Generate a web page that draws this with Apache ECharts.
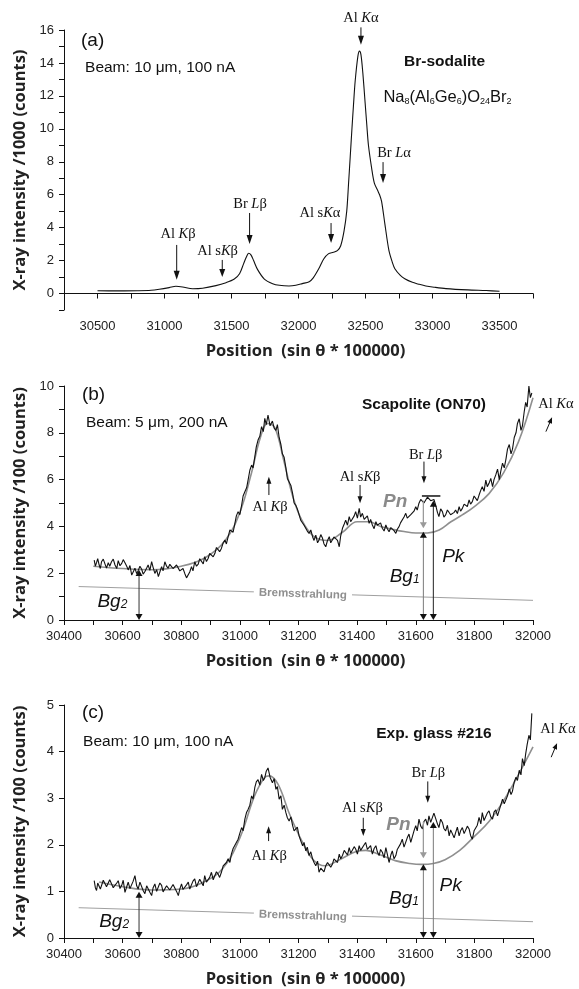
<!DOCTYPE html>
<html>
<head>
<meta charset="utf-8">
<script src="https://cdn.jsdelivr.net/npm/echarts@6/dist/echarts.min.js"></script>
<style>
html, body { margin: 0; padding: 0; background: #fff; }
#main { width: 579px; height: 989px; }
</style>
</head>
<body>
<div id="main"></div>
<script>
// (a) Br-sodalite, intensity /1000
const aPos = [30500, 30600, 30700, 30800, 30900, 30961, 31035, 31085, 31135, 31210,
  31284, 31384, 31459, 31521, 31560, 31590, 31610, 31628, 31645, 31665,
  31695, 31745, 31807, 31857, 31929, 31980, 32028, 32080, 32110, 32151,
  32188, 32225, 32260, 32290, 32315, 32340, 32360, 32373, 32386, 32398,
  32410, 32423, 32443, 32455, 32466, 32480, 32497, 32510, 32522, 32546,
  32566, 32591, 32605, 32620, 32645, 32675, 32700, 32719, 32760, 32793,
  32850, 32892, 32950, 33016, 33100, 33263, 33400, 33500]
const aInt = [0.17, 0.16, 0.16, 0.17, 0.2, 0.26, 0.36, 0.44, 0.40, 0.29,
  0.32, 0.48, 0.66, 0.88, 1.2, 1.8, 2.2, 2.45, 2.35, 2.0,
  1.45, 0.88, 0.6, 0.5, 0.46, 0.5, 0.6, 0.72, 0.95, 1.5,
  2.1, 2.42, 2.5, 2.6, 2.9, 3.8, 5.0, 6.6, 8.3, 9.9,
  11.4, 12.9, 14.4, 14.72, 14.5, 13.4, 11.6, 10.2, 9.0, 7.6,
  6.7, 6.25, 6.0, 5.6, 4.2, 2.6, 1.9, 1.5, 1.1, 0.9,
  0.68, 0.58, 0.46, 0.38, 0.3, 0.22, 0.18, 0.14]

// (b) scapolite and (c) glass, intensity /100, read at the same positions
const bcPos = [30503, 30507, 30511, 30515, 30520, 30524, 30528, 30534, 30540, 30545,
  30551, 30556, 30562, 30568, 30574, 30580, 30585, 30591, 30597, 30602,
  30608, 30614, 30619, 30625, 30631, 30636, 30642, 30648, 30653, 30659,
  30665, 30670, 30676, 30682, 30687, 30693, 30699, 30704, 30710, 30716,
  30722, 30727, 30733, 30738, 30744, 30750, 30755, 30761, 30767, 30772,
  30778, 30784, 30790, 30795, 30801, 30806, 30812, 30818, 30824, 30829,
  30835, 30840, 30846, 30852, 30858, 30863, 30869, 30875, 30880, 30886,
  30892, 30897, 30903, 30909, 30915, 30920, 30926, 30931, 30937, 30943,
  30949, 30954, 30960, 30966, 30971, 30977, 30983, 30988, 30994, 31000,
  31006, 31011, 31017, 31023, 31028, 31034, 31040, 31045, 31051, 31056,
  31062, 31068, 31074, 31080, 31085, 31090, 31096, 31103,
  31111, 31117, 31123, 31128, 31134, 31140, 31145, 31151, 31157, 31162,
  31168, 31174, 31180, 31185, 31191, 31196, 31202, 31208, 31214, 31219,
  31225, 31230, 31236, 31242, 31248, 31253, 31259, 31265, 31270, 31276,
  31282, 31287, 31293, 31299, 31305, 31310, 31316, 31321, 31327, 31333,
  31339, 31344, 31350, 31356, 31361, 31367, 31373, 31378, 31384, 31390,
  31395, 31401, 31407, 31412, 31418, 31424, 31429, 31435, 31441, 31446,
  31452, 31458, 31464, 31469, 31475, 31480, 31486, 31492, 31498, 31503,
  31509, 31515, 31520, 31526, 31532, 31537, 31543, 31548, 31554, 31560,
  31566, 31571, 31577, 31583, 31589, 31594, 31600, 31605, 31611, 31617,
  31623, 31628, 31634, 31640, 31645, 31651, 31657, 31662, 31668, 31674,
  31679, 31685, 31691, 31696, 31702, 31708, 31714, 31719, 31725, 31731,
  31736, 31742, 31748, 31753, 31759, 31765, 31770, 31776, 31782, 31787,
  31793, 31799, 31805, 31810, 31816, 31822, 31827, 31833, 31839, 31844,
  31850, 31856, 31862, 31867, 31873, 31879, 31885, 31890, 31896, 31902,
  31908, 31913, 31919, 31925, 31930, 31936, 31942, 31947, 31953, 31959,
  31964, 31970, 31975, 31980, 31986, 31991, 31996]
const bInt = [2.56, 2.30, 2.45, 2.62, 2.35, 2.20, 2.49, 2.60, 2.39, 2.22,
  2.45, 2.30, 2.49, 2.60, 2.35, 2.20, 2.54, 2.32, 2.42, 2.58,
  2.45, 2.30, 2.14, 2.33, 1.92, 2.05, 2.21, 1.98, 2.11, 2.30,
  2.17, 1.96, 2.07, 2.22, 2.35, 2.12, 2.49, 2.25, 1.99, 2.15,
  1.85, 2.05, 2.28, 2.10, 2.49, 2.30, 2.21, 2.38, 2.45, 2.20,
  2.14, 2.35, 2.28, 2.10, 2.02, 2.20, 1.99, 1.80, 1.85, 2.05,
  2.28, 2.10, 2.49, 2.30, 2.39, 2.62, 2.56, 2.40, 2.71, 2.50,
  2.64, 2.85, 2.92, 2.70, 2.85, 3.10, 3.13, 2.92, 3.06, 3.30,
  3.42, 3.25, 3.56, 3.85, 3.92, 3.75, 4.13, 4.45, 4.63, 4.50,
  4.91, 5.30, 5.48, 5.65, 5.98, 6.40, 6.62, 6.50, 6.98, 7.40,
  7.69, 7.85, 8.26, 8.05, 8.62, 8.35, 8.76, 8.30,
  8.50, 8.20, 8.10, 8.35, 7.80, 7.50, 7.10, 6.95, 6.50, 6.05,
  5.90, 5.75, 5.40, 5.00, 4.90, 4.75, 4.50, 4.25, 4.20, 4.05,
  4.00, 3.80, 3.70, 3.85, 3.56, 3.40, 3.63, 3.30, 3.42, 3.65,
  3.49, 3.25, 3.13, 3.40, 3.56, 3.30, 3.35, 3.55, 3.63, 3.40,
  3.13, 3.60, 3.92, 4.10, 4.27, 4.05, 4.42, 4.20, 4.13, 4.45,
  4.63, 4.35, 4.77, 4.40, 4.56, 4.30, 4.27, 4.45, 4.13, 4.30,
  4.06, 3.90, 4.20, 4.05, 3.99, 4.15, 3.92, 3.80, 4.06, 3.90,
  3.77, 3.95, 3.99, 3.82, 3.70, 3.88, 3.99, 4.15, 4.20, 4.40,
  4.56, 4.35, 4.27, 4.50, 4.42, 4.65, 4.84, 4.70, 4.99, 5.15,
  5.20, 5.00, 5.13, 5.25, 5.27, 5.10, 5.06, 5.15, 4.91, 4.60,
  4.42, 4.75, 4.63, 4.40, 4.49, 4.70, 4.63, 4.50, 4.42, 4.60,
  4.70, 4.55, 4.84, 4.65, 4.77, 4.95, 4.99, 4.85, 5.13, 4.95,
  5.06, 5.30, 5.27, 5.10, 5.34, 5.55, 5.70, 5.50, 5.98, 5.70,
  5.84, 6.05, 5.70, 6.00, 6.20, 6.45, 6.00, 6.35, 6.70, 6.50,
  6.90, 7.30, 7.50, 7.10, 7.30, 7.80, 8.00, 8.40, 8.60, 8.10,
  8.30, 8.90, 9.30, 9.10, 10.0, 9.50, 9.70]
const cInt = [1.23, 1.08, 1.02, 1.18, 1.21, 1.05, 1.09, 1.24, 1.27, 1.10,
  1.13, 1.25, 1.21, 1.08, 1.05, 1.18, 1.23, 1.06, 1.13, 1.24,
  0.98, 1.10, 1.20, 1.06, 1.02, 1.22, 1.34, 1.12, 1.05, 1.20,
  1.16, 1.02, 0.95, 1.12, 1.09, 0.98, 0.91, 1.08, 1.16, 1.00,
  1.02, 1.18, 1.13, 0.99, 0.98, 1.12, 1.16, 1.03, 1.02, 1.15,
  1.13, 1.00, 0.91, 1.05, 1.16, 1.04, 1.02, 1.14, 1.20, 1.05,
  1.09, 1.22, 1.27, 1.10, 1.13, 1.26, 1.23, 1.12, 1.34, 1.20,
  1.16, 1.30, 1.41, 1.25, 1.27, 1.42, 1.37, 1.30, 1.41, 1.55,
  1.52, 1.62, 1.70, 1.62, 1.80, 1.92, 1.94, 2.05, 2.12, 2.25,
  2.37, 2.30, 2.55, 2.70, 2.76, 2.85, 3.05, 2.98, 3.23, 3.35,
  3.40, 3.28, 3.51, 3.38, 3.44, 3.58, 3.65, 3.45,
  3.33, 3.42, 3.19, 3.25, 2.98, 3.05, 2.76, 2.85, 2.69, 2.58,
  2.51, 2.60, 2.41, 2.30, 2.26, 2.38, 2.19, 2.08, 1.98, 2.05,
  1.87, 1.95, 1.77, 1.85, 1.70, 1.62, 1.55, 1.65, 1.41, 1.50,
  1.52, 1.42, 1.55, 1.62, 1.66, 1.52, 1.59, 1.70, 1.73, 1.62,
  1.80, 1.70, 1.77, 1.88, 1.87, 1.78, 1.94, 1.82, 1.84, 1.96,
  1.91, 1.80, 1.98, 1.88, 1.87, 2.00, 2.05, 1.90, 1.87, 1.98,
  1.80, 1.92, 1.98, 1.85, 1.77, 1.90, 1.84, 1.72, 1.94, 1.80,
  1.62, 1.78, 1.87, 1.70, 1.77, 1.90, 1.91, 2.02, 2.12, 1.95,
  1.98, 2.15, 2.23, 2.05, 2.09, 2.30, 2.41, 2.30, 2.55, 2.40,
  2.34, 2.50, 2.55, 2.42, 2.62, 2.48, 2.51, 2.68, 2.66, 2.45,
  2.37, 2.55, 2.48, 2.35, 2.30, 2.42, 2.19, 2.32, 2.30, 2.15,
  2.26, 2.38, 2.19, 2.30, 2.37, 2.24, 2.23, 2.40, 2.34, 2.20,
  2.12, 2.30, 2.26, 2.42, 2.59, 2.45, 2.69, 2.52, 2.55, 2.68,
  2.73, 2.60, 2.55, 2.70, 2.75, 2.62, 2.62, 2.85, 2.98, 2.88,
  2.85, 3.05, 3.20, 3.08, 3.15, 3.35, 3.45, 3.38, 3.60, 3.50,
  3.85, 3.70, 3.95, 4.15, 4.35, 4.25, 4.82]

// smooth grey fits (background model)
const bFitPos = [30500, 30600, 30700, 30800, 30880, 30950, 31000, 31040, 31070, 31095,
  31120, 31150, 31180, 31210, 31250, 31300, 31350, 31400, 31440, 31480,
  31520, 31560, 31600, 31640, 31680, 31720, 31760, 31800, 31850, 31900,
  31950, 32000]
const bFit = [2.3, 2.2, 2.15, 2.3, 2.65, 3.4, 4.6, 6.3, 7.8, 8.4,
  8.2, 6.8, 5.3, 4.3, 3.6, 3.4, 3.75, 4.2, 4.2, 4.0,
  3.88, 3.78, 3.72, 3.72, 3.85, 4.2, 4.5, 4.85, 5.4, 6.3,
  7.6, 9.5]
const cFitPos = [30520, 30600, 30700, 30800, 30870, 30940, 31000, 31050, 31085, 31100,
  31130, 31170, 31210, 31250, 31290, 31340, 31400, 31430, 31480, 31530,
  31580, 31620, 31660, 31700, 31750, 31800, 31850, 31900, 31950, 32000]
const cFit = [1.2, 1.1, 1.03, 1.05, 1.18, 1.48, 2.15, 3.05, 3.45, 3.48,
  3.3, 2.65, 2.1, 1.68, 1.55, 1.68, 1.86, 1.88, 1.78, 1.66,
  1.6, 1.58, 1.6, 1.68, 1.88, 2.18, 2.5, 2.95, 3.5, 4.1]

// Bremsstrahlung lines
const bremPos = [30450, 32000]
const bBrem = [1.43, 0.84]
const cBrem = [0.65, 0.35]

// measured levels for the Pk / Bg arrows
const bLevels = { bg2: 2.14, bg1: 3.77, pk: 5.10, pnTip: 3.92 }
const cLevels = { bg2: 0.99, bg1: 1.58, pk: 2.49, pnTip: 1.71 }

const pairs = (xs, ys) => xs.map((x, i) => [x, ys[i]])

const SANS = '"Liberation Sans", Arial, sans-serif'
const SERIF = '"Liberation Serif", "Times New Roman", serif'
const TITLE = '"Open Sans", Lato, sans-serif'

const chart = echarts.init(document.getElementById('main'))

function xAxisOf (grid, min, max, step, every) {
  return {
    type: 'value',
    gridIndex: grid,
    min: min,
    max: max,
    interval: step,
    name: 'Position  (sin θ * 100000)',
    nameLocation: 'middle',
    nameGap: 33,
    nameTextStyle: { fontFamily: TITLE, fontWeight: 'bold', fontSize: 16.5, color: '#222', padding: [0, 0, 0, 14] },
    axisLine: { show: true, lineStyle: { color: '#111', width: 1 } },
    axisTick: { show: true, inside: false, length: 5, lineStyle: { color: '#111' } },
    axisLabel: {
      margin: 10,
      fontFamily: SANS,
      fontSize: 13,
      color: '#222',
      formatter: v => (v % every === 0 ? String(v) : '')
    },
    splitLine: { show: false }
  }
}

function yAxisOf (grid, min, max, every, name) {
  return {
    type: 'value',
    gridIndex: grid,
    min: min,
    max: max,
    interval: 1,
    name: name,
    nameLocation: 'middle',
    nameGap: 35,
    nameTextStyle: { fontFamily: TITLE, fontWeight: 'bold', fontSize: 16.5, color: '#222' },
    axisLine: { show: true, lineStyle: { color: '#111', width: 1 } },
    axisTick: { show: true, inside: false, length: 5, lineStyle: { color: '#111' } },
    axisLabel: {
      margin: 10,
      fontFamily: SANS,
      fontSize: 13,
      color: '#222',
      formatter: v => (v >= 0 && v % every === 0 ? String(v) : '')
    },
    splitLine: { show: false }
  }
}

function lineSeries (grid, data, color, width, z, smooth) {
  return {
    type: 'line',
    xAxisIndex: grid,
    yAxisIndex: grid,
    data: data,
    showSymbol: false,
    smooth: smooth || false,
    lineStyle: { color: color, width: width },
    z: z,
    silent: true
  }
}

chart.setOption({
  animation: false,
  backgroundColor: '#fff',
  grid: [
    { left: 64, top: 30, width: 469, height: 280 },
    { left: 64, top: 386, width: 469, height: 234 },
    { left: 64, top: 705, width: 469, height: 234.5 }
  ],
  xAxis: [
    xAxisOf(0, 30250, 33750, 250, 500),
    xAxisOf(1, 30400, 32000, 100, 200),
    xAxisOf(2, 30400, 32000, 100, 200)
  ],
  yAxis: [
    yAxisOf(0, -1, 16, 2, 'X-ray intensity /1000 (counts)'),
    yAxisOf(1, 0, 10, 2, 'X-ray intensity /100 (counts)'),
    yAxisOf(2, 0, 5, 1, 'X-ray intensity /100 (counts)')
  ],
  series: [
    lineSeries(0, pairs(aPos, aInt), '#111', 1.1, 5, 0.3),
    lineSeries(1, pairs(bremPos, bBrem), '#a0a0a0', 1, 2),
    lineSeries(1, pairs(bFitPos, bFit), '#8f8f8f', 1.6, 3, 0.4),
    lineSeries(1, pairs(bcPos, bInt), '#111', 1.1, 5),
    lineSeries(2, pairs(bremPos, cBrem), '#a0a0a0', 1, 2),
    lineSeries(2, pairs(cFitPos, cFit), '#8f8f8f', 1.6, 3, 0.4),
    lineSeries(2, pairs(bcPos, cInt), '#111', 1.1, 5)
  ]
})

// ---- annotations, placed in data coordinates ----
const els = []
const toPx = (g, x, y) => chart.convertToPixel({ gridIndex: g }, [x, y])

function arrow (g, x0, y0, x1, y1, o) {
  o = o || {}
  const p0 = toPx(g, x0, y0)
  const p1 = toPx(g, x1, y1)
  const dx = p1[0] - p0[0]
  const dy = p1[1] - p0[1]
  const len = Math.hypot(dx, dy)
  const ux = dx / len
  const uy = dy / len
  const hl = o.hl || 8
  const hw = o.hw || 6
  const col = o.color || '#111'
  const head = o.head || '#111'
  const a = o.both ? [p0[0] + ux * (hl - 1), p0[1] + uy * (hl - 1)] : p0
  const b = [p1[0] - ux * (hl - 1), p1[1] - uy * (hl - 1)]
  els.push({ type: 'line', silent: true, z: 20, shape: { x1: a[0], y1: a[1], x2: b[0], y2: b[1] }, style: { stroke: col, lineWidth: o.lw || 1 } })
  const tri = (tip, vx, vy) => ({
    type: 'polygon',
    silent: true,
    z: 21,
    shape: { points: [tip, [tip[0] - vx * hl - vy * hw / 2, tip[1] - vy * hl + vx * hw / 2], [tip[0] - vx * hl + vy * hw / 2, tip[1] - vy * hl - vx * hw / 2]] },
    style: { fill: head }
  })
  els.push(tri(p1, ux, uy))
  if (o.both) els.push(tri(p0, -ux, -uy))
}

function label (g, x, y, text, style, extra) {
  const p = toPx(g, x, y)
  els.push(Object.assign({
    type: 'text',
    silent: true,
    z: 22,
    x: p[0],
    y: p[1],
    style: Object.assign({ text: text, align: 'center', verticalAlign: 'middle', fill: '#111', font: '15px ' + SANS }, style)
  }, extra || {}))
}

function hbar (g, xa, xb, y, color) {
  const p = toPx(g, xa, y)
  const q = toPx(g, xb, y)
  els.push({ type: 'line', silent: true, z: 20, shape: { x1: p[0], y1: p[1], x2: q[0], y2: q[1] }, style: { stroke: color, lineWidth: 1.5 } })
}

const serifRich = {
  i: { fontFamily: SERIF, fontStyle: 'italic', fontSize: 14.5, color: '#111' }
}
const peakLabel = (g, x, y, txt) => label(g, x, y, txt, { font: '14.5px ' + SERIF, rich: serifRich })
const bigItalic = {
  b: { fontFamily: SANS, fontStyle: 'italic', fontSize: 19, color: '#111' },
  s: { fontFamily: SANS, fontStyle: 'italic', fontSize: 12, color: '#111', verticalAlign: 'bottom', padding: [0, 0, 1, 0] }
}

// panel (a)
label(0, 30377, 15.37, '(a)', { font: '19px ' + SANS, align: 'left' })
label(0, 30407, 13.68, 'Beam: 10 μm, 100 nA', { font: '15.5px ' + SANS, align: 'left' })
label(0, 33090, 14.1, 'Br-sodalite', { font: 'bold 15.5px ' + SANS })
label(0, 33112, 11.92, 'Na{s|8}(Al{s|6}Ge{s|6})O{s|24}Br{s|2}', {
  font: '16.5px ' + SANS,
  rich: { s: { fontFamily: SANS, fontSize: 9, color: '#111', verticalAlign: 'bottom' } }
})
peakLabel(0, 32466, 16.7, 'Al {i|K}α')
arrow(0, 32466, 16.16, 32466, 15.1, { hl: 9, hw: 6 })
peakLabel(0, 32713, 8.53, 'Br {i|L}α')
arrow(0, 32631, 7.98, 32631, 6.71, { hl: 9, hw: 6 })
peakLabel(0, 32160, 4.89, 'Al s{i|K}α')
arrow(0, 32243, 4.28, 32243, 3.07, { hl: 9, hw: 6 })
peakLabel(0, 31638, 5.44, 'Br {i|L}β')
arrow(0, 31635, 4.89, 31635, 3.01, { hl: 9, hw: 6 })
peakLabel(0, 31101, 3.6, 'Al {i|K}β')
arrow(0, 31091, 2.95, 31091, 0.83, { hl: 9, hw: 6 })
peakLabel(0, 31396, 2.55, 'Al s{i|K}β')
arrow(0, 31431, 2.04, 31431, 1.01, { hl: 8, hw: 6 })

// panels (b) and (c) share the same annotation layout
function measured (g, lv, yScale, t) {
  label(g, 30461, t.tag[1], t.tag[0], { font: '19px ' + SANS, align: 'left' })
  label(g, t.beam[1], t.beam[2], t.beam[0], { font: '15.5px ' + SANS, align: 'left' })
  label(g, t.name[1], t.name[2], t.name[0], { font: 'bold 15.5px ' + SANS })
  peakLabel(g, t.ka[0], t.ka[1], 'Al {i|K}α')
  arrow(g, t.ka[2], t.ka[3], t.ka[4], t.ka[5], { hl: 6, hw: 5 })
  peakLabel(g, t.kb[0], t.kb[1], 'Al {i|K}β')
  arrow(g, t.kb[2], t.kb[3], t.kb[2], t.kb[4], { hl: 7, hw: 5 })
  peakLabel(g, t.skb[0], t.skb[1], 'Al s{i|K}β')
  arrow(g, t.skb[2], t.skb[3], t.skb[2], t.skb[4], { hl: 7, hw: 5 })
  peakLabel(g, t.lb[0], t.lb[1], 'Br {i|L}β')
  arrow(g, t.lb[2], t.lb[3], t.lb[2], t.lb[4], { hl: 7, hw: 5 })

  // Bremsstrahlung tag sits on its line
  label(g, 31215, t.brem, 'Bremsstrahlung', {
    font: 'bold 11.5px ' + SANS, fill: '#8f8f8f', backgroundColor: '#fff', padding: [1, 5]
  }, { rotation: -0.035 })

  // Bg2, Bg1, Pk double arrows and the Pn arrow
  arrow(g, 30656, 0, 30656, lv.bg2, { both: true, hl: 6, hw: 7, color: '#333' })
  arrow(g, 31626, 0, 31626, lv.bg1, { both: true, hl: 6, hw: 7, color: '#7a7a7a' })
  arrow(g, 31660, 0, 31660, lv.pk, { both: true, hl: 6, hw: 7, color: t.pkColor })
  arrow(g, 31626, lv.pk, 31626, lv.pnTip, { hl: 6, hw: 7, color: '#9a9a9a', head: '#9a9a9a', lw: 1.3 })
  if (t.pkBar) hbar(g, 31621, 31684, lv.pk + 0.02 * yScale, '#111')

  label(g, t.pn[0], t.pn[1], 'Pn', { font: 'italic bold 19px ' + SANS, fill: '#8a8a8a' })
  label(g, t.pk[0], t.pk[1], 'Pk', { font: 'italic 19px ' + SANS })
  label(g, t.bg1[0], t.bg1[1], '{b|Bg}{s|1}', { rich: bigItalic })
  label(g, t.bg2[0], t.bg2[1], '{b|Bg}{s|2}', { rich: bigItalic })
}

measured(1, bLevels, 10, {
  tag: ['(b)', 9.62],
  beam: ['Beam: 5 μm, 200 nA', 30475, 8.42],
  name: ['Scapolite (ON70)', 31628, 9.19],
  ka: [32078, 9.23, 32044, 8.05, 32065, 8.66],
  kb: [31103, 4.83, 31099, 5.34, 6.12],
  skb: [31410, 6.11, 31410, 5.77, 4.99],
  lb: [31634, 7.05, 31628, 6.77, 5.84],
  brem: 1.11,
  pn: [31530, 5.04],
  pk: [31728, 2.71],
  bg1: [31562, 1.85],
  bg2: [30565, 0.78],
  pkColor: '#222',
  pkBar: true
})

measured(2, cLevels, 5, {
  tag: ['(c)', 4.83],
  beam: ['Beam: 10 μm, 100 nA', 30465, 4.21],
  name: ['Exp. glass #216', 31662, 4.39],
  ka: [32085, 4.48, 32062, 3.88, 32082, 4.18],
  kb: [31100, 1.75, 31098, 2.08, 2.4],
  skb: [31418, 2.79, 31421, 2.58, 2.19],
  lb: [31643, 3.54, 31641, 3.36, 2.90],
  brem: 0.475,
  pn: [31541, 2.44],
  pk: [31719, 1.12],
  bg1: [31560, 0.84],
  bg2: [30571, 0.35],
  pkColor: '#7a7a7a',
  pkBar: false
})

chart.setOption({ graphic: els })
</script>
</body>
</html>
